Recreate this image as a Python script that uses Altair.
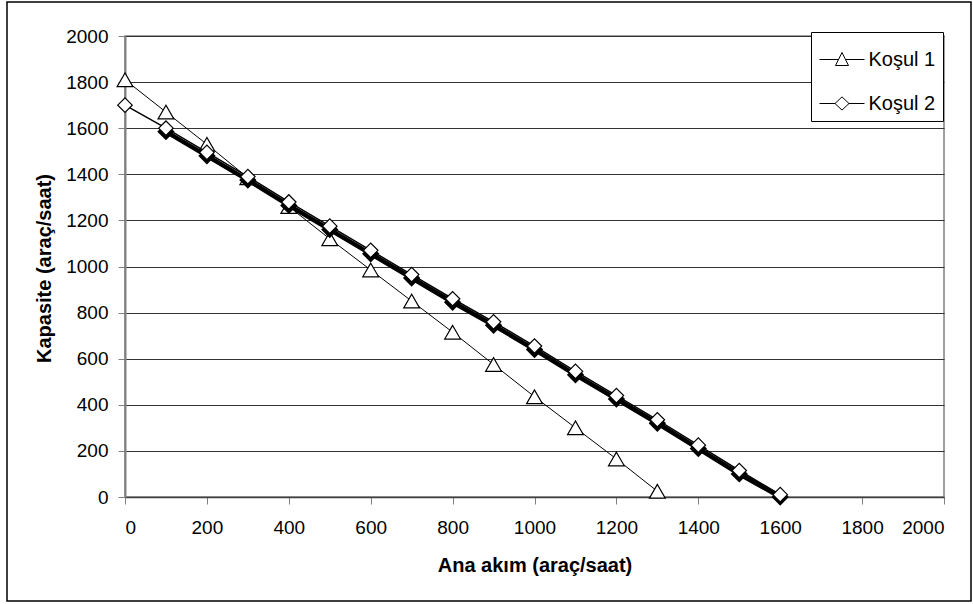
import altair as alt
import pandas as pd

# ---- data ----
series_names = ["Koşul 1", "Koşul 2"]

x_k1 = [0, 100, 200, 300, 400, 500, 600, 700, 800, 900, 1000, 1100, 1200, 1300]
y_k1 = [1810, 1670, 1530, 1385, 1260, 1120, 985, 850, 715, 575, 435, 300, 165, 25]

x_k2 = [0, 100, 200, 300, 400, 500, 600, 700, 800, 900, 1000, 1100, 1200, 1300, 1400, 1500, 1600]
y_k2 = [1700, 1600, 1495, 1390, 1280, 1175, 1070, 965, 860, 760, 655, 545, 440, 335, 225, 115, 10]

# darker overlapping trace visible under Koşul 2 (thick black band)
x_sh = [100, 200, 300, 400, 500, 600, 700, 800, 900, 1000, 1100, 1200, 1300, 1400, 1500, 1600]
y_sh = [1585, 1480, 1375, 1265, 1160, 1055, 950, 845, 745, 640, 530, 425, 320, 210, 100, 0]

tick_values = [0, 200, 400, 600, 800, 1000, 1200, 1400, 1600, 1800, 2000]

df1 = pd.DataFrame({"x": x_k1, "y": y_k1, "series": series_names[0]})
df2 = pd.DataFrame({"x": x_k2, "y": y_k2, "series": series_names[1]})
dfm = pd.concat([df1, df2], ignore_index=True)
dfs = pd.DataFrame({"x": x_sh, "y": y_sh})

FONT = "Liberation Sans"

xs = alt.Scale(domain=[0, 2000], nice=False)
ys = alt.Scale(domain=[0, 2000], nice=False)

X = alt.X("x:Q", scale=xs, axis=alt.Axis(
    title="Ana akım (araç/saat)", values=tick_values, grid=False, format="d",
    tickSize=7, tickColor="#808080", domainColor="#404040", domainWidth=1.5,
    labelFontSize=19, labelPadding=14, labelColor="black",
    titleFontSize=20, titleFontWeight="bold", titleColor="black",
    titleBaseline="alphabetic", titleY=74, titleX=409.5, titleAlign="center"))
Y = alt.Y("y:Q", scale=ys, axis=alt.Axis(
    title="Kapasite (araç/saat)", values=tick_values, grid=True, format="d",
    gridColor="#333333", gridWidth=1,
    tickSize=7, tickColor="#808080", domainColor="#808080", domainWidth=2,
    labelFontSize=19, labelPadding=10, labelColor="black",
    titleFontSize=20, titleFontWeight="bold", titleColor="black",
    titleAngle=-90, titleBaseline="alphabetic", titleAlign="center",
    titleX=-75, titleY=232))

Xn = alt.X("x:Q", scale=xs)
Yn = alt.Y("y:Q", scale=ys)

border = alt.Chart(pd.DataFrame({"a": [0]})).mark_rect(
    fillOpacity=0, stroke="black", strokeWidth=1.5
).encode(x=alt.value(-118), x2=alt.value(846), y=alt.value(-34), y2=alt.value(565))

k1_line = alt.Chart(df1).mark_line(color="black", strokeWidth=1).encode(x=X, y=Y)
k1_pts = alt.Chart(df1).mark_point(shape="triangle-up", size=250, filled=True,
                                   fill="white", stroke="black", strokeWidth=1.2,
                                   opacity=1).encode(x=Xn, y=Yn)

sh_line = alt.Chart(dfs).mark_line(color="black", strokeWidth=4.5).encode(x=Xn, y=Yn)
sh_pts = alt.Chart(dfs).mark_point(shape="diamond", size=210, filled=True,
                                   fill="black", stroke="black", opacity=1).encode(x=Xn, y=Yn)

k2_line = alt.Chart(df2).mark_line(color="black", strokeWidth=1.5).encode(x=Xn, y=Yn)
k2_pts = alt.Chart(df2).mark_point(shape="diamond", size=210, filled=True,
                                   fill="white", stroke="black", strokeWidth=1.2,
                                   opacity=1).encode(x=Xn, y=Yn)

path_tri = "M-1.125,0H-0.175M0.175,0H1.125M0,-0.35L0.325,0.3L-0.325,0.3Z"
path_dia = "M-1.125,0H-0.35M0.35,0H1.125M-0.35,0L0,-0.33L0.35,0L0,0.33Z"

legend_layer = alt.Chart(dfm).mark_point(
    filled=False, stroke="black", strokeWidth=1, size=0
).encode(
    x=Xn, y=Yn,
    shape=alt.Shape("series:N",
                    scale=alt.Scale(domain=series_names, range=[path_tri, path_dia]),
                    legend=alt.Legend(
                        title=None, orient="none", legendX=686, legendY=-4,
                        padding=7, rowPadding=13, symbolSize=1600,
                        symbolOffset=3.5, labelOffset=6,
                        labelFontSize=20, labelFont=FONT, labelColor="black",
                        strokeColor="black", fillColor="white",
                        symbolStrokeWidth=1, symbolFillColor="white",
                        symbolStrokeColor="black", symbolOpacity=1)))

chart = alt.layer(
    border, k1_line, k1_pts, sh_line, sh_pts, k2_line, k2_pts, legend_layer
).properties(
    width=819, height=461,
    autosize=alt.AutoSizeParams(type="none"),
    padding={"left": 125, "top": 36, "right": 29, "bottom": 107},
    background="white",
).configure(font=FONT).configure_view(
    stroke="#808080", strokeWidth=1.5
).configure_axis(labelFont=FONT, titleFont=FONT)

chart.save("out.html", embed_options={"renderer": "svg", "actions": False})
